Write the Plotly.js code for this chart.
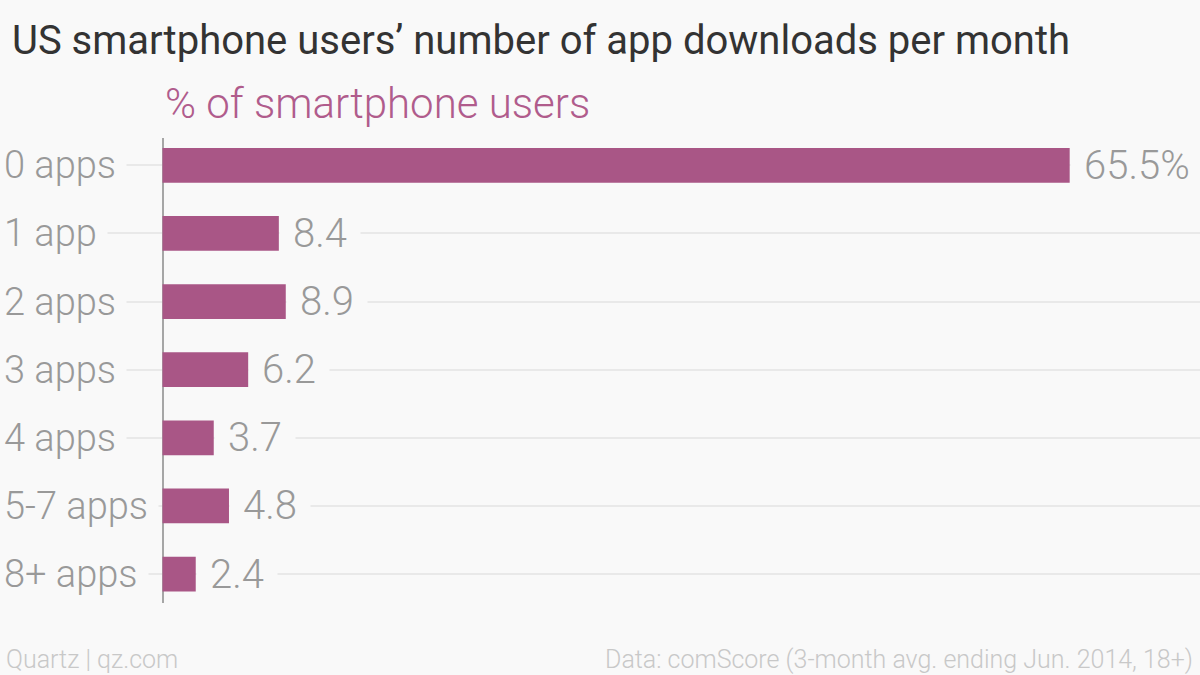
<!DOCTYPE html>
<html>
<head>
<meta charset="utf-8">
<script src="https://cdn.plot.ly/plotly-3.0.1.min.js"></script>
<style>
  html, body { margin: 0; padding: 0; background: #f9f9f9; }
  #chart { width: 1200px; height: 675px; }
</style>
</head>
<body>
<div id="chart"></div>
<script>
// ---- data ----
const categories = ["0 apps", "1 app", "2 apps", "3 apps", "4 apps", "5-7 apps", "8+ apps"];
const shares = [65.5, 8.4, 8.9, 6.2, 3.7, 4.8, 2.4];
const chartTitle = "US smartphone users\u2019 number of app downloads per month";
const subtitle = "% of smartphone users";
const creditText = "Quartz | qz.com";
const sourceText = "Data: comScore (3-month avg. ending Jun. 2014, 18+)";

// ---- style ----
const BG = "#f9f9f9";
const BAR = "#a95686";
const GRAY = "#999999";
const FONT = "Roboto, 'Liberation Sans', sans-serif";
const W = 1200, H = 675;
const M = { l: 0, r: 0, t: 138, b: 72 };
const plotH = H - M.t - M.b;
const px = v => v / W;                       // pixel -> paper x
const py = v => (H - M.b - v) / plotH;       // pixel -> paper y

const valueText = shares.map((v, i) => v.toFixed(1) + (i === 0 ? "%" : ""));

const annotations = [];
// chart title
annotations.push({
  xref: "paper", yref: "paper", x: px(1072), y: py(40), xanchor: "right", yanchor: "middle",
  text: chartTitle, showarrow: false,
  font: { family: FONT, size: 40, color: "#333333", weight: 400 }
});
// subtitle
annotations.push({
  xref: "paper", yref: "paper", x: px(163), y: py(103), xanchor: "left", yanchor: "middle",
  text: subtitle, showarrow: false,
  font: { family: FONT, size: 42, color: "#b05c8c", weight: 300 }
});
// category labels (left aligned)
categories.forEach((c) => {
  annotations.push({
    xref: "paper", yref: "y", x: px(-7), y: c, xanchor: "left", yanchor: "middle",
    text: c, showarrow: false, bgcolor: BG, borderpad: 10,
    font: { family: FONT, size: 38, color: GRAY, weight: 300 }
  });
});
// value labels
shares.forEach((v, i) => {
  annotations.push({
    xref: "x", yref: "y", x: v, y: categories[i], xanchor: "left", yanchor: "middle",
    text: valueText[i], showarrow: false, bgcolor: BG, borderpad: 13,
    font: { family: FONT, size: 40, color: GRAY, weight: 300 }
  });
});
// footer
annotations.push({
  xref: "paper", yref: "paper", x: px(4), y: py(659), xanchor: "left", yanchor: "middle",
  text: creditText, showarrow: false,
  font: { family: FONT, size: 25, color: "#c8c8c8", weight: 300 }
});
annotations.push({
  xref: "paper", yref: "paper", x: px(1195), y: py(659), xanchor: "right", yanchor: "middle",
  text: sourceText, showarrow: false,
  font: { family: FONT, size: 25, color: "#c8c8c8", weight: 300 }
});

const trace = {
  type: "bar",
  orientation: "h",
  x: shares,
  y: categories,
  width: 0.51,
  marker: { color: BAR, line: { width: 0 } },
  hoverinfo: "none"
};

const zeroPx = 162.5;
const scale = 13.85;   // pixels per percentage point
const layout = {
  width: W, height: H,
  paper_bgcolor: BG, plot_bgcolor: BG,
  margin: M,
  showlegend: false,
  xaxis: {
    range: [-zeroPx / scale, (W - zeroPx) / scale],
    showticklabels: false, showgrid: false, ticks: "",
    zeroline: true, zerolinecolor: "#a6a6a6", zerolinewidth: 2,
    fixedrange: true
  },
  yaxis: {
    type: "category",
    range: [6.425, -0.4],
    autorange: false,
    showticklabels: false, ticks: "",
    showgrid: true, gridcolor: "#e9e9e9", gridwidth: 2,
    zeroline: false, fixedrange: true
  },
  annotations: annotations
};

Plotly.newPlot("chart", [trace], layout, { staticPlot: true, displayModeBar: false });
</script>
</body>
</html>
